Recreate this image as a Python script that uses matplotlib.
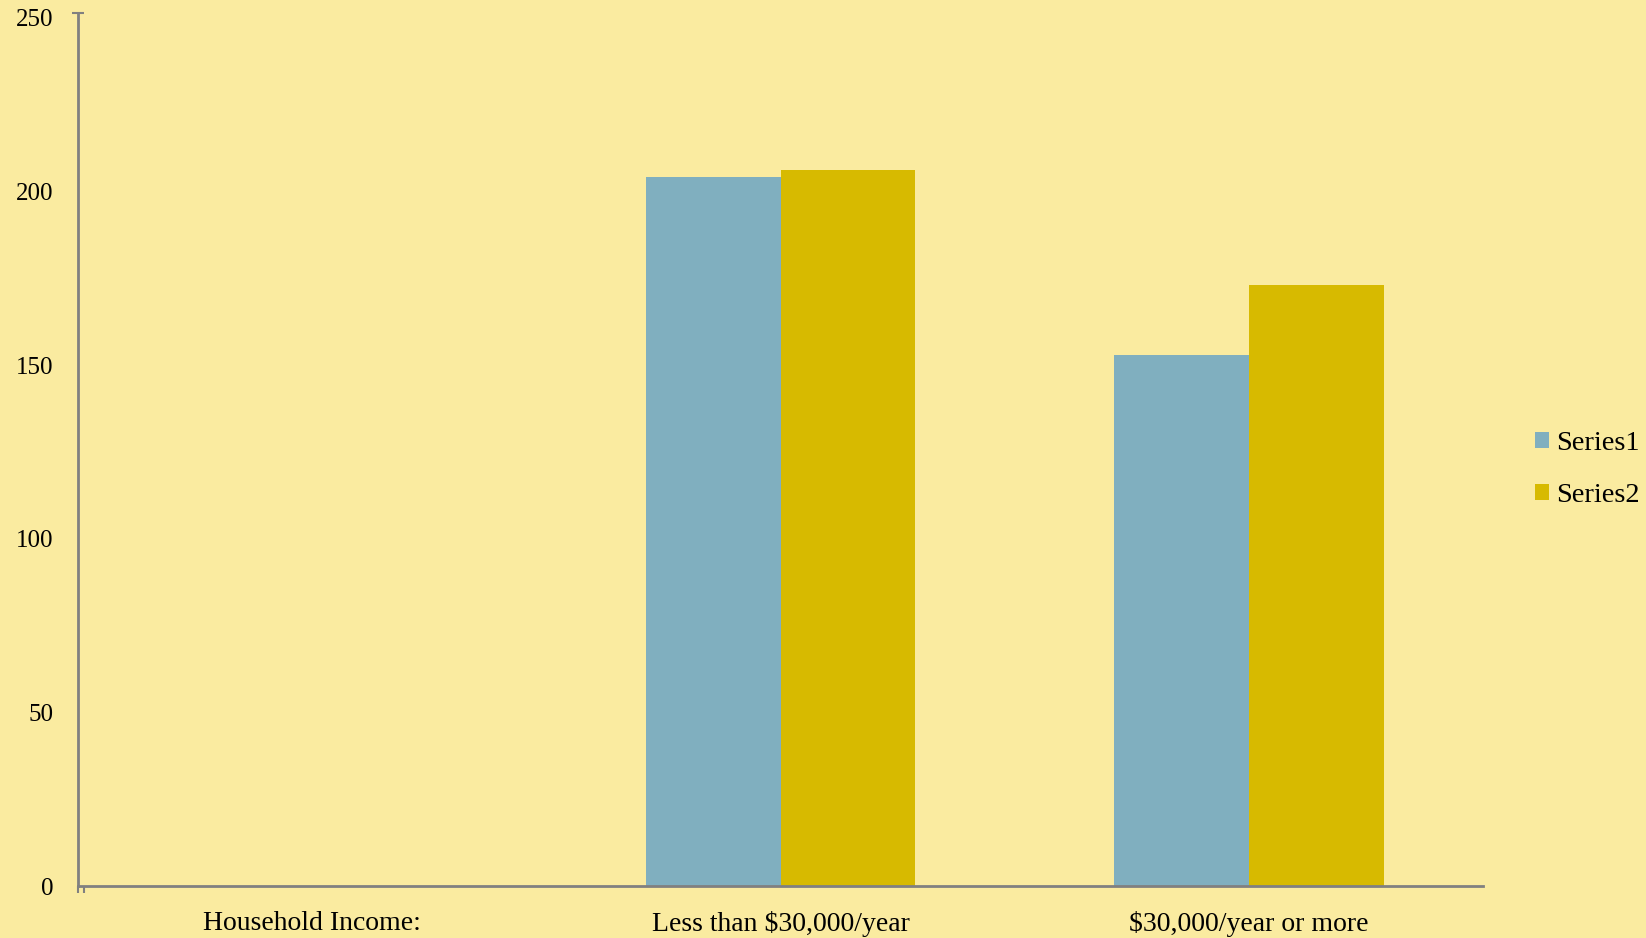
import matplotlib
matplotlib.use("Agg")
import matplotlib.pyplot as plt
import numpy as np

categories = ["Household Income:", "Less than $30,000/year", "$30,000/year or more"]
series1 = [0, 204, 153]
series2 = [0, 206, 173]
series_names = ["Series1", "Series2"]
yticks = [0, 50, 100, 150, 200, 250]

bg = "#FAEBA0"
c1 = "#80AFBF"
c2 = "#D7BA00"
axis_col = "#808080"

plt.rcParams['font.family'] = ['Liberation Serif', 'DejaVu Serif']

fig = plt.figure(figsize=(16.46, 9.38), dpi=100, facecolor=bg)
ax = fig.add_axes([0.0474, 0.0554, 0.8536, 0.9306], facecolor=bg)

x = np.arange(len(categories))
w = 0.288
ax.bar(x - w/2, series1, width=w, color=c1, label=series_names[0], zorder=2)
ax.bar(x + w/2, series2, width=w, color=c2, label=series_names[1], zorder=2)

ax.set_xlim(-0.5, len(categories) - 0.5)
ax.set_ylim(0, 251.3)
ax.set_yticks(yticks)
ax.set_yticklabels([str(v) for v in yticks], fontsize=18)
ax.tick_params(axis='y', length=0, pad=18)
ax.set_xticks(x)
ax.set_xticklabels(categories, fontsize=20)
ax.tick_params(axis='x', length=0, pad=18)

# small tick marks like the reference
ax.set_yticks([250, 251.3], minor=True)
ax.tick_params(axis='y', which='minor', direction='inout', length=8, width=1.5, color=axis_col)
ax.set_xticks([-0.5, -0.5 + 6/468], minor=True)
ax.tick_params(axis='x', which='minor', direction='out', length=5, width=1.5, color=axis_col)

for s in ['top', 'right']:
    ax.spines[s].set_visible(False)
for s in ['left', 'bottom']:
    ax.spines[s].set_color(axis_col)
    ax.spines[s].set_linewidth(2)

leg = ax.legend(loc='center left', bbox_to_anchor=(1.029, 0.477), frameon=False,
                fontsize=20.5, handlelength=0.5, handleheight=0.5, handletextpad=0.25,
                labelspacing=0.95, borderaxespad=0)

fig.savefig("out.png", dpi=100, facecolor=bg)
